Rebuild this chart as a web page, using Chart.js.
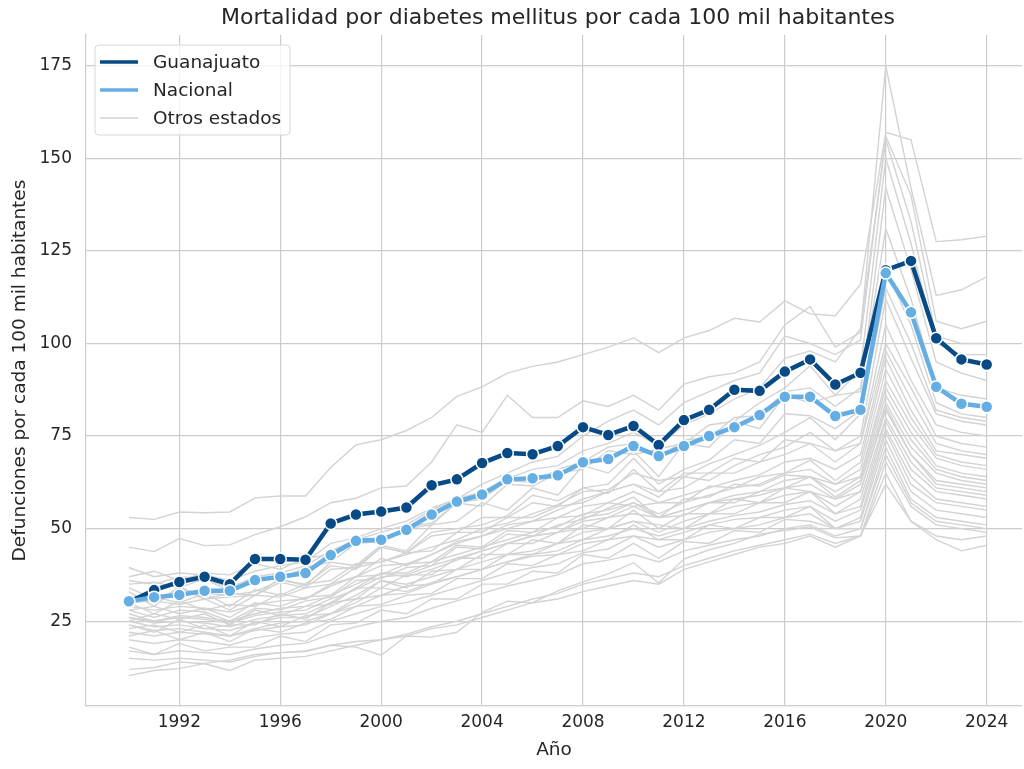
<!DOCTYPE html>
<html>
<head>
<meta charset="utf-8">
<script src="https://cdn.jsdelivr.net/npm/chart.js@4.4.0/dist/chart.umd.min.js"></script>
<style>
  html, body { margin: 0; padding: 0; background: #fff; }
</style>
</head>
<body>
<canvas id="mortalidadChart" width="1024" height="769"></canvas>
<script>
// años
const years = [1990, 1991, 1992, 1993, 1994, 1995, 1996, 1997, 1998, 1999,
  2000, 2001, 2002, 2003, 2004, 2005, 2006, 2007, 2008, 2009,
  2010, 2011, 2012, 2013, 2014, 2015, 2016, 2017, 2018, 2019,
  2020, 2021, 2022, 2023, 2024];

const xTicks = [1992, 1996, 2000, 2004, 2008, 2012, 2016, 2020, 2024];
const yTicks = [25, 50, 75, 100, 125, 150, 175];

const guanajuato = [30.2, 33.4, 35.6, 37, 35, 41.8, 41.8, 41.6, 51.4, 53.8,
  54.6, 55.7, 61.7, 63.3, 67.7, 70.4, 70.1, 72.3, 77.4, 75.3,
  77.7, 72.6, 79.3, 82.1, 87.5, 87.2, 92.4, 95.7, 88.9, 92.1,
  119.8, 122.3, 101.4, 95.7, 94.3];

const nacional = [30.4, 31.5, 32.1, 33.2, 33.2, 36.1, 37, 38, 42.9, 46.7,
  47, 49.7, 53.8, 57.3, 59.2, 63.3, 63.6, 64.4, 67.9, 68.8,
  72.3, 69.6, 72.3, 75, 77.4, 80.7, 85.6, 85.6, 80.4, 82.1,
  119, 108.4, 88.3, 83.7, 82.9];

// otros estados
const ciudadDeMexico = [53, 52.5, 54.5, 54.3, 54.5, 58.3, 58.8, 58.8, 66.5, 72.6, 74, 76.5, 80, 85.7, 88.3, 92, 93.8, 95, 97, 99, 101.5, 97.5, 101.5, 103.5, 106.8, 105.8, 111.5, 108, 107.5, 116, 157, 155, 127.5, 128, 129];
const tabasco = [45, 43.8, 47.3, 45.4, 45.6, 48.4, 50.5, 53.2, 57, 58.2, 61, 61.5, 68, 78, 76, 86, 80, 80, 84.5, 83, 86, 82, 89, 91, 92, 95, 105, 110, 99, 103, 175, 142, 113, 114.5, 118];
const coahuila = [39.5, 37, 38, 37.5, 36, 38.5, 40, 41, 46, 47.5, 50, 52, 55.5, 58, 62, 65, 68, 69.5, 75, 79, 82, 78, 84, 87, 90, 92, 102, 100, 97, 101, 156, 140, 106, 104, 106];
const puebla = [36, 35, 37, 36.5, 34, 37, 38, 40, 44, 47, 49, 51, 55, 58, 60, 63.5, 66, 67, 71, 73, 76, 72.5, 78, 81, 85, 88, 96, 98, 95, 104, 155, 133, 102, 100, 100];
const veracruz = [37, 38.5, 36, 38, 37.5, 40.5, 39, 42, 43, 47, 46, 50.5, 51.5, 57, 56, 62, 61.5, 65, 66, 71, 70, 71.5, 73, 78, 79, 84, 88, 94, 86, 93, 150, 127, 100, 97, 97];
const tlaxcala = [33, 29, 34.5, 31, 31.5, 32, 36.5, 34.5, 41, 40, 45.5, 44, 51, 52, 57, 55, 61, 59, 67, 65, 71, 64, 73, 72, 79, 77, 86, 84, 86, 87, 142, 120, 95, 92, 90];
const estadoDeMexico = [35, 35.5, 34, 36.5, 33, 37, 36.5, 39.5, 41, 46, 46.5, 50, 51, 57, 58, 63, 62.5, 66, 68, 72, 73, 69, 74, 74.5, 80, 80.5, 87, 88, 83, 88, 131, 112, 88, 86, 85];
const morelos = [34, 31, 33.5, 32.5, 32, 33, 36, 35, 40, 39, 45, 43.5, 49, 50, 51, 53.5, 59, 57.5, 61, 62, 69, 62, 66, 68.5, 74, 73, 81, 80.5, 77, 82, 120, 105, 84, 81, 80];
const michoacan = [31, 31.5, 30, 32.5, 29, 33.5, 32, 35, 36, 40.5, 41, 43, 45, 47, 50, 51.5, 54, 56.5, 60, 60.5, 65, 63, 64, 67.5, 70, 72.5, 76, 80, 74, 81, 115, 100, 82, 80, 79];
const hidalgo = [30, 27, 30.5, 28, 29.5, 29, 32.5, 31, 35, 37, 42, 40, 43, 46.5, 48, 51, 52, 55, 58, 60, 62, 58.5, 64, 63, 67, 70, 72, 76, 71, 75, 112, 96, 81, 79, 78];
const sonora = [32, 30, 34, 31, 32.5, 32, 35.5, 34, 39, 39.5, 45, 43.5, 48, 49, 53, 53, 57, 56, 61, 59.5, 66, 60, 65, 65, 69, 68, 74, 73, 71, 73, 105, 90, 78, 76, 75];
const tamaulipas = [30, 30.5, 29.5, 31, 28, 32, 31.5, 34, 35, 39.5, 41, 43.5, 44, 49, 49, 53, 53, 56, 57, 60, 62, 60, 61, 65, 65, 68, 70, 73, 68, 73, 100, 88, 75, 73, 72];
const nuevoLeon = [29, 28, 29, 28.5, 27.5, 29.5, 30.5, 31, 34.5, 37, 40, 40.5, 43, 46, 48, 50, 52, 53, 56, 57, 60, 57, 59, 61, 63, 64.5, 68, 69, 66, 70, 98, 85, 73, 71, 70];
const jalisco = [28, 29, 27, 28.5, 26, 30, 29, 31.5, 32, 37, 37.5, 40.5, 41, 45.5, 45, 49.5, 49, 53, 53.5, 57, 56, 57, 57, 61.5, 61, 64, 65, 68.5, 63, 68, 96, 82, 71, 70, 69];
const campeche = [27, 25, 26.5, 26, 25, 27, 28.5, 29, 32, 35, 38, 38, 41, 43, 45, 47, 49, 50.5, 54, 55, 57, 54, 57, 59, 61, 62, 65, 66, 62, 66, 93, 80, 70, 68, 67];
const yucatan = [28, 26, 28, 27.5, 25, 28.5, 28, 30.5, 31.5, 36, 36.5, 39.5, 40, 45, 44.5, 48.5, 48, 51, 52.5, 55.5, 58.5, 53, 58, 58.5, 62, 61.5, 64.5, 64, 62, 64, 90, 78, 69, 67, 66];
const sanLuisPotosi = [26, 25, 26, 25.5, 24.5, 26.5, 27.5, 28, 31, 33.5, 37, 37.5, 40, 42, 44, 46, 48, 49, 52, 53, 56, 53, 55, 57, 59, 60, 63, 64, 60, 64, 88, 76, 67, 65, 64];
const aguascalientes = [25, 27, 25.5, 27, 24, 28, 26.5, 29, 29.5, 34, 34, 37.5, 37.5, 42, 42, 46, 46, 49, 50, 53, 54, 53, 53.5, 57, 57, 60, 61, 64, 58.5, 63, 86, 74, 66, 64, 63];
const chihuahua = [26, 24.5, 25, 24.5, 23.5, 25.5, 26.5, 27, 30, 34, 38, 37, 39, 41.5, 44, 46, 48, 49, 53, 54, 57, 53, 55, 57, 58, 59, 61, 62, 58, 62, 84, 72, 65, 63, 62];
const bajaCalifornia = [24, 22, 25.5, 23, 24, 24, 27, 25.5, 30, 31, 36, 34, 38.5, 39, 43, 43, 47, 46, 51, 50, 55, 50, 54, 54, 58, 57, 61, 60, 58, 60, 83, 70, 63, 62, 61];
const colima = [25, 23.5, 24, 23, 22.5, 24.5, 26, 26, 29, 32, 36, 35, 37, 39, 41, 43, 44, 46, 49, 50, 52, 49, 52, 54, 56, 57, 59, 60, 56, 60, 82, 70, 62, 61, 60];
const durango = [23, 24, 22, 24, 21, 25, 23.5, 26.5, 27, 31, 32, 34.5, 35, 39, 39, 43, 43, 46, 47, 50, 52, 51, 50, 54, 54, 57, 57, 60, 54, 58, 80, 68, 61, 60, 59];
const zacatecas = [22, 21, 22, 21.5, 21, 22.5, 23.5, 24, 27, 29, 32, 32.5, 35, 37, 39, 41, 43, 44, 47, 48, 50, 48, 50, 52, 53.5, 54.5, 56.5, 57.5, 54, 56, 79, 66, 60, 59, 58];
const nayarit = [24, 22.5, 23, 22, 21, 23, 24.5, 25, 27, 30, 34, 33, 35.5, 37, 39, 41, 42.5, 43, 46, 47, 51, 47, 49, 51, 52.5, 53, 55, 56, 52, 55, 77, 64, 58, 57, 56];
const oaxaca = [21, 22.5, 20, 22, 19.5, 23, 22, 24.5, 25.5, 29, 29.5, 32, 32.5, 36.5, 36.5, 40.5, 40, 43, 44, 47, 48, 47, 47, 51, 50, 53, 53, 56, 50, 53, 76, 62, 57, 56, 55];
const queretaro = [20, 19, 20, 19.5, 18.5, 20.5, 21.5, 22, 25, 27, 29, 30, 32, 34, 36, 38, 39.5, 40.5, 43.5, 44.5, 48, 45, 47, 49, 50, 51, 53, 54, 50, 52, 74, 60, 55, 54, 53];
const guerrero = [18, 16, 19, 17, 18, 18, 21, 19.5, 24, 24.5, 28, 27, 31, 31, 35, 35, 38.5, 38, 43, 42, 46, 42, 46.5, 46, 49.5, 49, 52.5, 52, 50, 50, 72, 58, 53, 52, 51];
const sinaloa = [17, 16, 17, 16.5, 16, 17.5, 18.5, 19, 21.5, 23.5, 25, 26, 28.5, 30.5, 32.5, 34.5, 36, 37.5, 40.5, 41.5, 43, 41, 44, 45.5, 47, 48, 50, 51, 48, 50, 70, 57, 52, 51, 50];
const chiapas = [15, 14.5, 15, 14.5, 14, 15.5, 16.5, 17, 18.5, 19.5, 20, 21.5, 23.5, 25, 27, 29, 31, 32.5, 35, 36.5, 38, 37, 40, 42, 44, 45.5, 47, 48.5, 46, 48, 68, 56, 51, 50, 49];
const bajaCaliforniaSur = [12, 12.5, 14, 13.5, 11.7, 14.5, 15, 15.5, 17, 18.5, 20, 21, 23, 24, 26, 28, 30, 31, 33, 34.5, 36, 35, 39, 41, 43, 45, 46, 48, 45, 48, 65, 52, 48, 47, 48];
const quintanaRoo = [10.3, 11.7, 12.2, 13.6, 14.5, 16, 16.5, 16.8, 18.5, 18, 15.8, 21, 20.7, 22, 27.4, 30.4, 30, 33.2, 35.6, 37.8, 40.8, 35.3, 41.8, 44.3, 46, 48.5, 49.5, 50.5, 47.5, 48, 62, 52, 47, 44, 45.5];

const otrosEstados = [ciudadDeMexico, tabasco, coahuila, puebla, veracruz, tlaxcala,
  estadoDeMexico, morelos, michoacan, hidalgo, sonora, tamaulipas, nuevoLeon, jalisco,
  campeche, yucatan, sanLuisPotosi, aguascalientes, chihuahua, bajaCalifornia, colima,
  durango, zacatecas, nayarit, oaxaca, queretaro, guerrero, sinaloa, chiapas,
  bajaCaliforniaSur, quintanaRoo];

const AZUL_OSCURO = '#074a86';
const AZUL_CLARO = '#64aee4';
const GRIS = '#d3d3d3';
const TEXTO = '#262626';
const FUENTE = "'DejaVu Sans', sans-serif";
const TITULO = 'Mortalidad por diabetes mellitus por cada 100 mil habitantes';

function puntos(valores) {
  return valores.map((v, i) => ({ x: years[i], y: v }));
}

const datasets = [
  {
    label: 'Nacional',
    data: puntos(nacional),
    borderColor: AZUL_CLARO,
    backgroundColor: AZUL_CLARO,
    borderWidth: 4.5,
    pointRadius: 6,
    pointBorderColor: '#ffffff',
    pointBorderWidth: 1.5,
    pointBackgroundColor: AZUL_CLARO
  },
  {
    label: 'Guanajuato',
    data: puntos(guanajuato),
    borderColor: AZUL_OSCURO,
    backgroundColor: AZUL_OSCURO,
    borderWidth: 4.5,
    pointRadius: 6,
    pointBorderColor: '#ffffff',
    pointBorderWidth: 1.5,
    pointBackgroundColor: AZUL_OSCURO
  }
];
otrosEstados.forEach(serie => {
  datasets.push({
    label: 'Otros estados',
    data: puntos(serie),
    borderColor: GRIS,
    borderWidth: 1.4,
    pointRadius: 0
  });
});

// título centrado sobre el área de trazado + leyenda dentro
const decoraciones = {
  id: 'decoraciones',
  afterDraw(chart) {
    const ctx = chart.ctx;
    ctx.save();
    ctx.fillStyle = TEXTO;
    ctx.font = '22px ' + FUENTE;
    ctx.textAlign = 'center';
    ctx.textBaseline = 'middle';
    ctx.fillText(TITULO, 558, 18);

    const x = 95, y = 45, w = 195, h = 90, r = 4;
    ctx.beginPath();
    ctx.roundRect(x, y, w, h, r);
    ctx.fillStyle = 'rgba(255,255,255,0.8)';
    ctx.fill();
    ctx.strokeStyle = '#d6d6d6';
    ctx.lineWidth = 1;
    ctx.stroke();
    const items = [
      { text: 'Guanajuato', color: AZUL_OSCURO, width: 3.5 },
      { text: 'Nacional', color: AZUL_CLARO, width: 3.5 },
      { text: 'Otros estados', color: GRIS, width: 1.5 }
    ];
    ctx.font = '18.5px ' + FUENTE;
    ctx.textAlign = 'left';
    items.forEach((it, i) => {
      const cy = 62 + i * 28;
      ctx.beginPath();
      ctx.moveTo(100, cy);
      ctx.lineTo(138, cy);
      ctx.strokeStyle = it.color;
      ctx.lineWidth = it.width;
      ctx.stroke();
      ctx.fillStyle = TEXTO;
      ctx.fillText(it.text, 153, cy + 1);
    });
    ctx.restore();
  }
};

function sinRelleno(s) {
  s.paddingLeft = 0;
  s.paddingRight = 0;
  s.paddingTop = 0;
  s.paddingBottom = 0;
}

const chart = new Chart(document.getElementById('mortalidadChart').getContext('2d'), {
  type: 'line',
  data: { datasets: datasets },
  plugins: [decoraciones],
  options: {
    responsive: false,
    animation: false,
    elements: { line: { tension: 0 } },
    layout: { autoPadding: false, padding: { left: 0, right: 2, top: 35, bottom: 0 } },
    plugins: {
      legend: { display: false },
      tooltip: { enabled: false },
      title: { display: false }
    },
    scales: {
      x: {
        type: 'linear',
        min: 1988.3,
        max: 2025.4,
        afterBuildTicks: s => { s.ticks = xTicks.map(v => ({ value: v })); },
        afterFit: s => { s.height = 63; sinRelleno(s); },
        ticks: {
          autoSkip: false,
          maxRotation: 0,
          padding: 6,
          color: TEXTO,
          font: { family: FUENTE, size: 17 },
          callback: v => String(v)
        },
        grid: { color: '#cccccc', lineWidth: 1.2, drawTicks: false },
        border: { color: '#cccccc', width: 1.2 },
        title: {
          display: true,
          text: 'Año',
          color: TEXTO,
          font: { family: FUENTE, size: 18.5 },
          padding: { top: 0, bottom: 8 }
        }
      },
      y: {
        min: 2.1,
        max: 183.3,
        afterBuildTicks: s => { s.ticks = yTicks.map(v => ({ value: v })); },
        afterFit: s => { s.width = 86; sinRelleno(s); },
        ticks: {
          padding: 14,
          color: TEXTO,
          font: { family: FUENTE, size: 17 },
          callback: v => String(v)
        },
        grid: { color: '#cccccc', lineWidth: 1.2, drawTicks: false },
        border: { color: '#cccccc', width: 1.2 },
        title: {
          display: true,
          text: 'Defunciones por cada 100 mil habitantes',
          color: TEXTO,
          font: { family: FUENTE, size: 18.5 },
          padding: { top: 9, bottom: 0 }
        }
      }
    }
  }
});
</script>
</body>
</html>
